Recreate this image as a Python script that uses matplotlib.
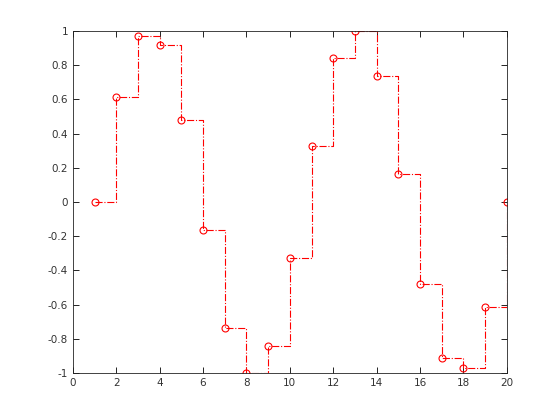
import numpy as np
import matplotlib
matplotlib.use("Agg")
import matplotlib.pyplot as plt

x = np.arange(1, 21)
y = [0, 0.614, 0.971, 0.918, 0.480, -0.164, -0.737, -1.0, -0.842, -0.327,
     0.327, 0.842, 1.0, 0.737, 0.164, -0.480, -0.912, -0.971, -0.614, 0]

fig = plt.figure(figsize=(5.6, 4.2), dpi=100)
ax = fig.add_axes([0.13, 0.112, 0.775, 0.814])

ax.step(x, y, where='post', color='red', linestyle='-.', linewidth=0.8,
        marker='o', markersize=5, markerfacecolor='none', markeredgewidth=0.8,
        clip_on=True)

ax.set_xlim(0, 20)
ax.set_ylim(-1, 1)
ax.set_xticks(np.arange(0, 21, 2))
ax.set_yticks(np.arange(-1, 1.01, 0.2))
ax.set_yticklabels(['-1', '-0.8', '-0.6', '-0.4', '-0.2', '0',
                    '0.2', '0.4', '0.6', '0.8', '1'])
ax.tick_params(direction='in', top=True, right=True, labelsize=7.5,
               labelcolor='#333333', length=4, width=0.6)
for s in ax.spines.values():
    s.set_linewidth(0.6)
    s.set_color('#222222')

fig.savefig("out.png", dpi=100)
